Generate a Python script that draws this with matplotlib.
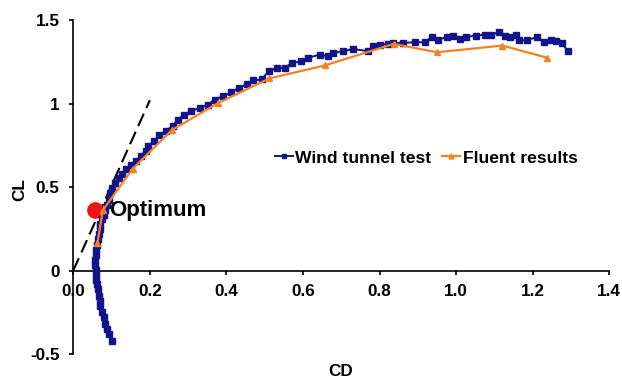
import matplotlib.pyplot as plt

plt.rcParams['font.family'] = ['Liberation Sans', 'DejaVu Sans']
plt.rcParams['font.weight'] = 'bold'

# Wind tunnel test (CD, CL)
wind_cd = [0.100, 0.093, 0.089, 0.084, 0.080, 0.075, 0.071, 0.069, 0.067, 0.064,
           0.062, 0.060, 0.060, 0.060, 0.058, 0.058, 0.060, 0.060, 0.062, 0.064,
           0.066, 0.069, 0.071, 0.075, 0.080, 0.084, 0.089, 0.093, 0.097, 0.102,
           0.110, 0.119, 0.128, 0.139, 0.150, 0.163, 0.176, 0.189, 0.194, 0.211,
           0.225, 0.242, 0.260, 0.273, 0.290, 0.308, 0.330, 0.352, 0.369, 0.391,
           0.413, 0.432, 0.453, 0.470, 0.492, 0.510, 0.532, 0.553, 0.571, 0.596,
           0.614, 0.644, 0.666, 0.679, 0.705, 0.731, 0.770, 0.783, 0.801, 0.822,
           0.836, 0.862, 0.892, 0.918, 0.936, 0.953, 0.975, 0.992, 1.010, 1.027,
           1.053, 1.075, 1.092, 1.112, 1.127, 1.142, 1.156, 1.165, 1.184, 1.210,
           1.229, 1.249, 1.262, 1.277, 1.291]
wind_cl = [-0.420, -0.380, -0.350, -0.320, -0.280, -0.250, -0.210, -0.180, -0.150, -0.110,
           -0.080, -0.055, -0.025, 0.005, 0.035, 0.065, 0.095, 0.125, 0.155, 0.190,
           0.220, 0.250, 0.280, 0.310, 0.335, 0.365, 0.395, 0.425, 0.465, 0.495,
           0.525, 0.555, 0.580, 0.605, 0.630, 0.655, 0.685, 0.715, 0.745, 0.775,
           0.810, 0.834, 0.868, 0.904, 0.934, 0.954, 0.974, 0.994, 1.024, 1.044,
           1.068, 1.094, 1.114, 1.138, 1.144, 1.193, 1.213, 1.213, 1.243, 1.253,
           1.274, 1.293, 1.283, 1.304, 1.313, 1.327, 1.313, 1.343, 1.353, 1.357,
           1.363, 1.363, 1.367, 1.367, 1.397, 1.383, 1.397, 1.407, 1.387, 1.399,
           1.407, 1.413, 1.413, 1.427, 1.403, 1.397, 1.409, 1.379, 1.379, 1.397,
           1.367, 1.379, 1.373, 1.363, 1.313]

# Fluent results (CD, CL)
fluent_cd = [0.063, 0.077, 0.155, 0.257, 0.379, 0.512, 0.657, 0.837, 0.950, 1.121, 1.238]
fluent_cl = [0.162, 0.360, 0.609, 0.840, 1.004, 1.150, 1.228, 1.357, 1.307, 1.347, 1.274]

# tangent line from origin and optimum point
tangent_cd = [0.0, 0.2]
tangent_cl = [0.0, 1.02]
opt_cd = 0.058
opt_cl = 0.36

xticks = [0.0, 0.2, 0.4, 0.6, 0.8, 1.0, 1.2, 1.4]
xtick_labels = ['0.0', '0.2', '0.4', '0.6', '0.8', '1.0', '1.2', '1.4']
yticks = [-0.5, 0, 0.5, 1, 1.5]
ytick_labels = ['-0.5', '0', '0.5', '1', '1.5']

fig = plt.figure(figsize=(6.22, 3.8), dpi=100)
ax = fig.add_axes([0.1178, 0.0684, 0.8617, 0.8789])

line_t, = ax.plot(tangent_cd, tangent_cl, color='black', linewidth=1.5)
line_t.set_dashes([6.5, 3])

ax.plot(opt_cd, opt_cl, 'o', color='#F01414', markersize=11, zorder=2)

ax.plot(wind_cd, wind_cl, marker='s', markersize=4.5, linestyle='-', linewidth=1.4,
        color='#14148A', label='Wind tunnel test', zorder=3)
ax.plot(fluent_cd, fluent_cl, marker='^', markersize=5, linestyle='-', linewidth=1.6,
        color='#F58220', label='Fluent results', zorder=4)

ax.text(0.093, opt_cl, 'Optimum', fontsize=16, fontweight='bold', va='center', ha='left')

ax.set_xlim(0, 1.4)
ax.set_ylim(-0.5, 1.5)
ax.spines['left'].set_position(('data', 0))
ax.spines['bottom'].set_position(('data', 0))
ax.spines['top'].set_visible(False)
ax.spines['right'].set_visible(False)
ax.spines['left'].set_linewidth(1.2)
ax.spines['bottom'].set_linewidth(1.2)

ax.set_xticks(xticks)
ax.set_xticklabels(xtick_labels)
ax.set_yticks(yticks)
ax.set_yticklabels(ytick_labels)
ax.tick_params(axis='x', direction='out', length=3, width=1.2, pad=6.5, labelsize=12.3)
ax.tick_params(axis='y', direction='out', length=3, width=1.2, pad=7, labelsize=12.3)

fig.text(20 / 622, 1 - 190 / 380, 'CL', rotation=90, fontsize=12.3, fontweight='bold',
         ha='center', va='center')
fig.text(341 / 622, 1 - 371 / 380, 'CD', fontsize=12.3, fontweight='bold',
         ha='center', va='center')

fig.legend(loc='center left', bbox_to_anchor=(275 / 622, 1 - 158 / 380), ncol=2,
           frameon=False, fontsize=12.6, handlelength=1.05, handletextpad=0.12,
           columnspacing=0.6, borderpad=0, borderaxespad=0, markerscale=0.7)

plt.savefig('out.png', dpi=100)
plt.close()
